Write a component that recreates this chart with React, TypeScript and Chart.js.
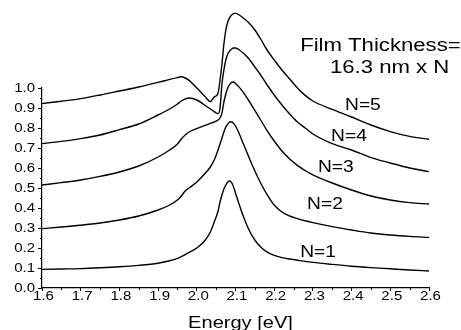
import { useEffect, useRef } from 'react';
import { Chart, registerables } from 'chart.js';
Chart.register(...registerables);

// ---- data ----
const energy = [1.6, 1.65, 1.7, 1.75, 1.8, 1.85, 1.9, 1.93, 1.95, 1.96, 1.97, 1.98, 2.0, 2.02, 2.035, 2.045, 2.055, 2.06, 2.065, 2.07, 2.075, 2.08, 2.085, 2.09, 2.095, 2.1, 2.11, 2.12, 2.135, 2.15, 2.165, 2.18, 2.2, 2.22, 2.24, 2.26, 2.28, 2.3, 2.35, 2.4, 2.45, 2.5, 2.55, 2.6];

const n1 = [0.093, 0.095, 0.097, 0.101, 0.106, 0.113, 0.124, 0.136, 0.148, 0.157, 0.167, 0.178, 0.2, 0.235, 0.28, 0.33, 0.385, 0.43, 0.465, 0.495, 0.515, 0.53, 0.535, 0.527, 0.505, 0.475, 0.415, 0.36, 0.29, 0.24, 0.205, 0.182, 0.163, 0.152, 0.145, 0.139, 0.133, 0.128, 0.118, 0.109, 0.102, 0.096, 0.09, 0.085];
const n2 = [0.297, 0.305, 0.314, 0.325, 0.34, 0.36, 0.39, 0.415, 0.44, 0.46, 0.485, 0.5, 0.53, 0.57, 0.605, 0.64, 0.69, 0.72, 0.75, 0.78, 0.805, 0.82, 0.83, 0.83, 0.823, 0.81, 0.77, 0.722, 0.652, 0.585, 0.525, 0.472, 0.415, 0.38, 0.36, 0.347, 0.336, 0.327, 0.307, 0.29, 0.275, 0.265, 0.258, 0.253];
const n3 = [0.515, 0.527, 0.54, 0.558, 0.58, 0.61, 0.655, 0.69, 0.72, 0.745, 0.765, 0.78, 0.797, 0.812, 0.823, 0.83, 0.84, 0.85, 0.875, 0.93, 0.97, 1.0, 1.018, 1.028, 1.03, 1.022, 1.003, 0.978, 0.935, 0.888, 0.84, 0.792, 0.735, 0.685, 0.645, 0.613, 0.587, 0.566, 0.525, 0.49, 0.46, 0.44, 0.427, 0.42];
const n4 = [0.722, 0.733, 0.747, 0.765, 0.792, 0.82, 0.865, 0.895, 0.92, 0.935, 0.945, 0.95, 0.94, 0.915, 0.895, 0.882, 0.872, 0.9, 1.02, 1.09, 1.14, 1.17, 1.185, 1.195, 1.2, 1.2, 1.19, 1.175, 1.145, 1.105, 1.065, 1.02, 0.965, 0.915, 0.87, 0.83, 0.8, 0.77, 0.722, 0.69, 0.652, 0.625, 0.6, 0.582];
const n5 = [0.922, 0.934, 0.947, 0.965, 0.985, 1.005, 1.028, 1.043, 1.052, 1.056, 1.05, 1.038, 1.0, 0.96, 0.932, 0.955, 0.975, 1.04, 1.12, 1.22, 1.29, 1.33, 1.352, 1.365, 1.372, 1.373, 1.365, 1.35, 1.325, 1.29, 1.245, 1.195, 1.14, 1.09, 1.045, 1.0, 0.963, 0.935, 0.893, 0.855, 0.815, 0.782, 0.758, 0.744];

const series = [n1, n2, n3, n4, n5];
const seriesLabels = ['N=1', 'N=2', 'N=3', 'N=4', 'N=5'];
// label anchors in data units (energy, value)
const labelEnergy = [2.267, 2.285, 2.313, 2.347, 2.383];
const labelValue = [0.157, 0.395, 0.578, 0.735, 0.89];

const xMin = 1.6;
const xMax = 2.6;
const xStep = 0.1;
const yMin = 0;
const yMax = 1.0;
const yStep = 0.1;

const titleLines = ['Film Thickness=', '16.3 nm x N'];
const titleEnergy = [2.267, 2.344];
const titleValue = [1.185, 1.075];
const xAxisTitle = 'Energy [eV]';

const FONT = '"Liberation Sans", Arial, Helvetica, sans-serif';

function stext(ctx: CanvasRenderingContext2D, text: string, x: number, y: number, size: number, sx: number, align: 'left' | 'center' | 'right') {
  ctx.save();
  ctx.font = `${size}px ${FONT}`;
  ctx.fillStyle = '#000';
  ctx.textAlign = 'left';
  ctx.textBaseline = 'alphabetic';
  const w = ctx.measureText(text).width * sx;
  const left = align === 'center' ? x - w / 2 : align === 'right' ? x - w : x;
  ctx.translate(left, y);
  ctx.scale(sx, 1);
  ctx.fillText(text, 0, 0);
  ctx.restore();
}

const decorPlugin = {
  id: 'decor',
  afterDraw(chart: any) {
    const { ctx, chartArea, scales } = chart;
    const x = scales.x;
    const y = scales.y;
    ctx.save();
    ctx.strokeStyle = '#000';
    ctx.lineWidth = 1;
    // minor ticks
    for (let i = 0; i < 10; i++) {
      const v = yMin + yStep * (i + 0.5);
      const py = Math.round(y.getPixelForValue(v)) + 0.5;
      ctx.beginPath();
      ctx.moveTo(chartArea.left - 2, py);
      ctx.lineTo(chartArea.left, py);
      ctx.stroke();
    }
    for (let i = 0; i < 10; i++) {
      const v = xMin + xStep * (i + 0.5);
      const px = Math.round(x.getPixelForValue(v)) + 0.5;
      ctx.beginPath();
      ctx.moveTo(px, chartArea.bottom);
      ctx.lineTo(px, chartArea.bottom + 2);
      ctx.stroke();
    }
    ctx.restore();

    // tick labels
    y.ticks.forEach((t: any) => {
      const py = y.getPixelForValue(t.value);
      stext(ctx, Number(t.value).toFixed(1), chartArea.left - 7, py + 4.3, 12, 1.25, 'right');
    });
    x.ticks.forEach((t: any) => {
      const px = x.getPixelForValue(t.value);
      stext(ctx, Number(t.value).toFixed(1), px + 1.5, chartArea.bottom + 12, 12, 1.25, 'center');
    });

    // axis title
    stext(ctx, xAxisTitle, (chartArea.left + chartArea.right) / 2 + 5, chartArea.bottom + 40, 15.8, 1.27, 'center');

    // series labels
    seriesLabels.forEach((lab, i) => {
      stext(ctx, lab, x.getPixelForValue(labelEnergy[i]), y.getPixelForValue(labelValue[i]), 16, 1.2, 'left');
    });

    // title
    titleLines.forEach((line, i) => {
      stext(ctx, line, x.getPixelForValue(titleEnergy[i]), y.getPixelForValue(titleValue[i]), 18, 1.23, 'left');
    });
  },
};

export default function App() {
  const ref = useRef<HTMLCanvasElement>(null);
  useEffect(() => {
    const canvas = ref.current;
    if (!canvas) return;
    const chart = new Chart(canvas, {
      type: 'line',
      data: {
        datasets: series.map((s, k) => ({
          label: seriesLabels[k],
          data: energy.map((e, i) => ({ x: e, y: s[i] })),
          borderColor: '#000',
          borderWidth: 1.4,
          pointRadius: 0,
          fill: false,
          cubicInterpolationMode: 'monotone' as const,
          clip: false as any,
        })),
      },
      options: {
        responsive: false,
        animation: false,
        devicePixelRatio: 1,
        layout: { padding: { left: 0, right: 32, top: 88, bottom: 0 } },
        elements: { line: { capBezierPoints: false } as any },
        plugins: { legend: { display: false }, tooltip: { enabled: false }, title: { display: false } },
        scales: {
          x: {
            type: 'linear',
            min: xMin,
            max: xMax,
            ticks: { display: false, stepSize: xStep },
            grid: { display: true, drawOnChartArea: false, drawTicks: true, tickLength: 3, color: '#000', tickColor: '#000', tickWidth: 1 },
            border: { display: true, color: '#000', width: 1.2 },
            afterFit: (s: any) => { s.height = 42; },
          },
          y: {
            type: 'linear',
            min: yMin,
            max: yMax,
            ticks: { display: false, stepSize: yStep },
            grid: { display: true, drawOnChartArea: false, drawTicks: true, tickLength: 4, color: '#000', tickColor: '#000', tickWidth: 1 },
            border: { display: true, color: '#000', width: 1.2 },
            afterFit: (s: any) => { s.width = 42; },
          },
        },
      },
      plugins: [decorPlugin],
    });
    return () => chart.destroy();
  }, []);
  return (
    <div style={{ position: 'fixed', left: 0, top: 0, width: 461, height: 330, background: '#fff' }}>
      <canvas ref={ref} width={461} height={330} style={{ display: 'block' }} />
    </div>
  );
}
